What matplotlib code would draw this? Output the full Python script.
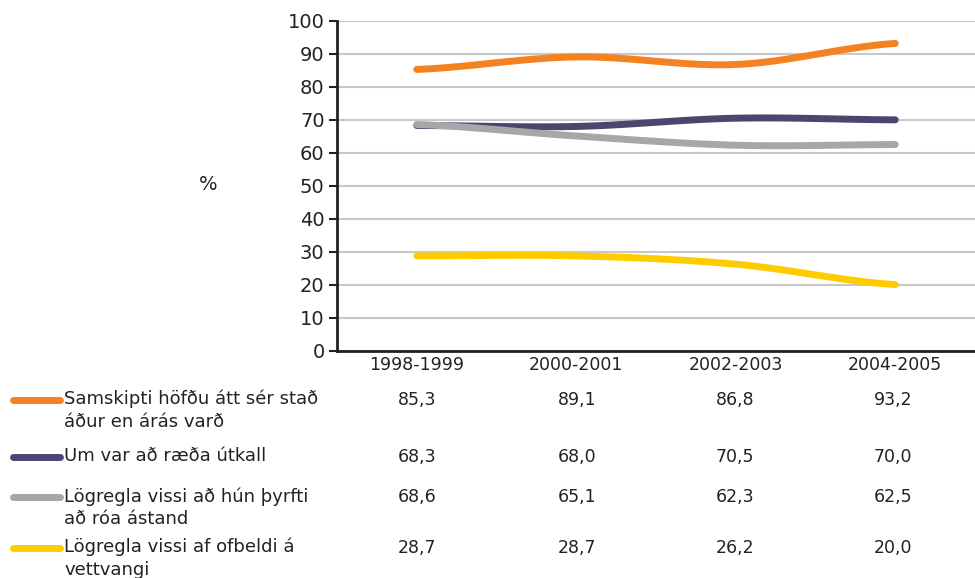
import numpy as np
import matplotlib
matplotlib.use("Agg")
import matplotlib.pyplot as plt

categories = ["1998-1999", "2000-2001", "2002-2003", "2004-2005"]
series_names = [
    "Samskipti höfðu átt sér stað\náður en árás varð",
    "Um var að ræða útkall",
    "Lögregla vissi að hún þyrfti\nað róa ástand",
    "Lögregla vissi af ofbeldi á\nvettvangi",
]
samskipti = [85.3, 89.1, 86.8, 93.2]
utkall = [68.3, 68.0, 70.5, 70.0]
roa = [68.6, 65.1, 62.3, 62.5]
ofbeldi = [28.7, 28.7, 26.2, 20.0]
series = [samskipti, utkall, roa, ofbeldi]
colors = ["#F58220", "#4A4670", "#A7A7A9", "#FFCC00"]
y_ticks = list(range(0, 101, 10))

W, H = 975, 578
fig = plt.figure(figsize=(W / 100, H / 100), dpi=100)
ax = fig.add_axes([337 / W, 1 - 350.5 / H, (975 - 337) / W, (350.5 - 21) / H])

def smooth(xs, ys, n=40):
    xs = np.asarray(xs, float); ys = np.asarray(ys, float)
    px, py = [], []
    for i in range(len(xs) - 1):
        x0, x1 = xs[i], xs[i + 1]
        y0, y1 = ys[i], ys[i + 1]
        m0 = (ys[min(i + 1, len(ys) - 1)] - ys[max(i - 1, 0)]) / (xs[min(i + 1, len(xs) - 1)] - xs[max(i - 1, 0)])
        m1 = (ys[min(i + 2, len(ys) - 1)] - ys[i]) / (xs[min(i + 2, len(xs) - 1)] - xs[i])
        if i == 0:
            m0 = 0.5 * m0
        if i == len(xs) - 2:
            m1 = 0.5 * m1
        h = x1 - x0
        s = np.linspace(0, 1, n)
        h00 = 2 * s**3 - 3 * s**2 + 1
        h10 = s**3 - 2 * s**2 + s
        h01 = -2 * s**3 + 3 * s**2
        h11 = s**3 - s**2
        px.extend(x0 + s * h)
        py.extend(h00 * y0 + h10 * h * m0 + h01 * y1 + h11 * h * m1)
    return np.array(px), np.array(py)

x = np.arange(len(categories))
for vals, c in zip(series, colors):
    sx, sy = smooth(x, vals)
    ax.plot(sx, sy, color=c, lw=5, solid_capstyle="round", zorder=3)

ax.set_xlim(-0.5, len(categories) - 0.5)
ax.set_ylim(0, 100)
ax.set_yticks(y_ticks)
ax.set_xticks(x)
ax.set_xticklabels(categories, fontsize=12.5, color="#222222")
ax.tick_params(axis="x", length=0, pad=4)
ax.tick_params(axis="y", length=6, width=1.5, color="#222222", labelsize=14, labelcolor="#222222", pad=3)
ax.grid(axis="y", color="#C8C8C8", lw=1.5, zorder=0)
for s in ["top", "right"]:
    ax.spines[s].set_visible(False)
for s in ["left", "bottom"]:
    ax.spines[s].set_color("#222222")
    ax.spines[s].set_linewidth(2)

fig.text(208 / W, 1 - 185 / H, "%", fontsize=14, color="#222222", ha="center", va="center")

row_y = [400, 457, 497, 548]
col_x = [417, 577, 735, 893]
for name, vals, c, ry in zip(series_names, series, colors, row_y):
    fig.add_artist(plt.Line2D([13 / W, 60 / W], [1 - ry / H, 1 - ry / H], color=c, lw=5,
                              solid_capstyle="round", transform=fig.transFigure))
    fig.text(64 / W, 1 - (ry - 10) / H, name, fontsize=13, color="#222222", ha="left", va="top",
             linespacing=1.33)
    for cx, v in zip(col_x, vals):
        fig.text(cx / W, 1 - ry / H, f"{v:.1f}".replace(".", ","), fontsize=12.5, color="#222222",
                 ha="center", va="center")

fig.savefig("out.png", dpi=100)
